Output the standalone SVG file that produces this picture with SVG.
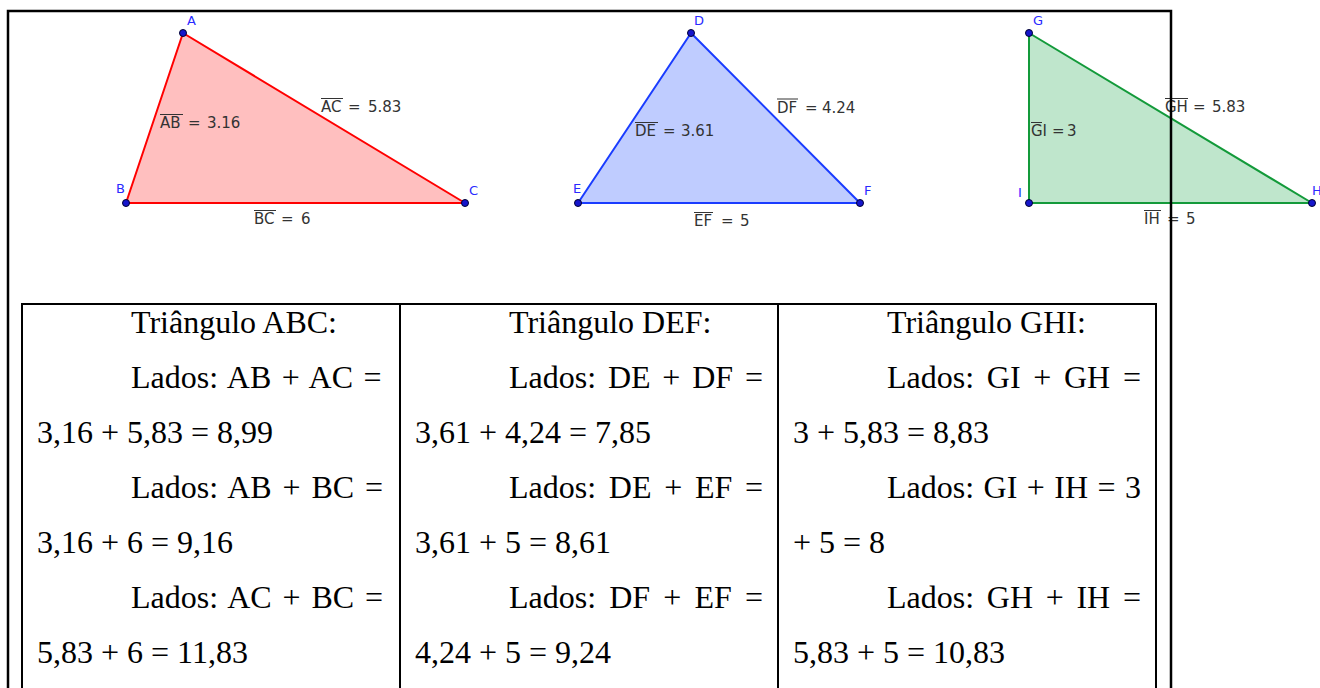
<svg xmlns="http://www.w3.org/2000/svg" width="1320" height="688" viewBox="0 0 1320 688">
<style>
  .lbl { font-family: "DejaVu Sans", sans-serif; font-size: 15px; fill: #333333; }
  .ov { stroke: #333333; stroke-width: 1; }
  .vtx { font-family: "DejaVu Sans", sans-serif; font-size: 13px; fill: #2a2aff; }
  .pt { fill: #1515cc; stroke: #000033; stroke-width: 1; }
  .cell { font-family: "Liberation Serif", "Times New Roman", serif; font-size: 32px; fill: #000000; }
  .grid { fill: none; stroke: #000000; stroke-width: 2; }
</style>
<rect width="1320" height="688" fill="#ffffff"/>

<g id="triangle-ABC">
  <polygon points="183,33 126,203 465,203" fill="#ffbfbf" stroke="#ff0000" stroke-width="2" stroke-linejoin="round"/>
  <text class="lbl" x="160" y="128">AB<tspan x="188">=</tspan><tspan x="207">3.16</tspan></text>
  <line class="ov" x1="160" y1="114.5" x2="183" y2="114.5"/>
  <text class="lbl" x="321" y="112">AC<tspan x="348">=</tspan><tspan x="368">5.83</tspan></text>
  <line class="ov" x1="321" y1="98.5" x2="343" y2="98.5"/>
  <text class="lbl" x="254" y="224">BC<tspan x="281">=</tspan><tspan x="301">6</tspan></text>
  <line class="ov" x1="254" y1="210.5" x2="276" y2="210.5"/>
  <circle class="pt" cx="183" cy="33" r="3.5"/>
  <circle class="pt" cx="126" cy="203" r="3.5"/>
  <circle class="pt" cx="465" cy="203" r="3.5"/>
  <text class="vtx" x="187" y="25">A</text>
  <text class="vtx" x="116" y="193">B</text>
  <text class="vtx" x="469" y="195">C</text>
</g>

<g id="triangle-DEF">
  <polygon points="691,33 578,203 860,203" fill="#bfccff" stroke="#1a3cff" stroke-width="2" stroke-linejoin="round"/>
  <text class="lbl" x="635" y="136">DE<tspan x="663">=</tspan><tspan x="681">3.61</tspan></text>
  <line class="ov" x1="635" y1="122.5" x2="658" y2="122.5"/>
  <text class="lbl" x="777" y="112.5">DF<tspan x="805">=</tspan><tspan x="822">4.24</tspan></text>
  <line class="ov" x1="777" y1="99" x2="798" y2="99"/>
  <text class="lbl" x="694" y="226">EF<tspan x="721">=</tspan><tspan x="740">5</tspan></text>
  <line class="ov" x1="694" y1="212.5" x2="713" y2="212.5"/>
  <circle class="pt" cx="691" cy="33" r="3.5"/>
  <circle class="pt" cx="578" cy="203" r="3.5"/>
  <circle class="pt" cx="860" cy="203" r="3.5"/>
  <text class="vtx" x="694" y="25">D</text>
  <text class="vtx" x="573" y="193">E</text>
  <text class="vtx" x="864" y="195">F</text>
</g>

<g id="triangle-GHI">
  <polygon points="1029,33 1029,203 1312,203" fill="#bfe6cc" stroke="#139a3a" stroke-width="2" stroke-linejoin="round"/>
  <text class="lbl" x="1031" y="136">GI<tspan x="1052">=</tspan><tspan x="1067">3</tspan></text>
  <line class="ov" x1="1031" y1="122.5" x2="1042" y2="122.5"/>
  <text class="lbl" x="1165" y="112">GH<tspan x="1193">=</tspan><tspan x="1212">5.83</tspan></text>
  <line class="ov" x1="1165" y1="98.5" x2="1188" y2="98.5"/>
  <text class="lbl" x="1144" y="224">IH<tspan x="1167">=</tspan><tspan x="1186">5</tspan></text>
  <line class="ov" x1="1144" y1="210.5" x2="1161" y2="210.5"/>
  <circle class="pt" cx="1029" cy="33" r="3.5"/>
  <circle class="pt" cx="1029" cy="203" r="3.5"/>
  <circle class="pt" cx="1312" cy="203" r="3.5"/>
  <text class="vtx" x="1033" y="25">G</text>
  <text class="vtx" x="1018" y="197">I</text>
  <text class="vtx" x="1312" y="195">H</text>
</g>

<g id="frame">
  <rect x="8" y="11" width="1163" height="720" fill="none" stroke="#000000" stroke-width="2.5"/>
</g>

<g id="table">
  <rect class="grid" x="22" y="304" width="1134" height="420"/>
  <line class="grid" x1="400" y1="304" x2="400" y2="700"/>
  <line class="grid" x1="778" y1="304" x2="778" y2="700"/>
</g>

<g id="cell-ABC" class="cell">
  <text class="cell" x="131" y="333">Triângulo ABC:</text>
  <text class="cell" x="131" y="388" word-spacing="2.5">Lados: AB + AC =</text>
  <text class="cell" x="37" y="443">3,16 + 5,83 = 8,99</text>
  <text class="cell" x="131" y="498" word-spacing="2.9">Lados: AB + BC =</text>
  <text class="cell" x="37" y="553">3,16 + 6 = 9,16</text>
  <text class="cell" x="131" y="608" word-spacing="2.9">Lados: AC + BC =</text>
  <text class="cell" x="37" y="663">5,83 + 6 = 11,83</text>
</g>

<g id="cell-DEF" class="cell">
  <text class="cell" x="509" y="333">Triângulo DEF:</text>
  <text class="cell" x="509" y="388" word-spacing="3.8">Lados: DE + DF =</text>
  <text class="cell" x="415" y="443">3,61 + 4,24 = 7,85</text>
  <text class="cell" x="509" y="498" word-spacing="4.7">Lados: DE + EF =</text>
  <text class="cell" x="415" y="553">3,61 + 5 = 8,61</text>
  <text class="cell" x="509" y="608" word-spacing="5.15">Lados: DF + EF =</text>
  <text class="cell" x="415" y="663">4,24 + 5 = 9,24</text>
</g>

<g id="cell-GHI" class="cell">
  <text class="cell" x="887" y="333">Triângulo GHI:</text>
  <text class="cell" x="887" y="388" word-spacing="4.7">Lados: GI + GH =</text>
  <text class="cell" x="793" y="443">3 + 5,83 = 8,83</text>
  <text class="cell" x="887" y="498" word-spacing="1.46">Lados: GI + IH = 3</text>
  <text class="cell" x="793" y="553">+ 5 = 8</text>
  <text class="cell" x="887" y="608" word-spacing="4.7">Lados: GH + IH =</text>
  <text class="cell" x="793" y="663">5,83 + 5 = 10,83</text>
</g>
</svg>
